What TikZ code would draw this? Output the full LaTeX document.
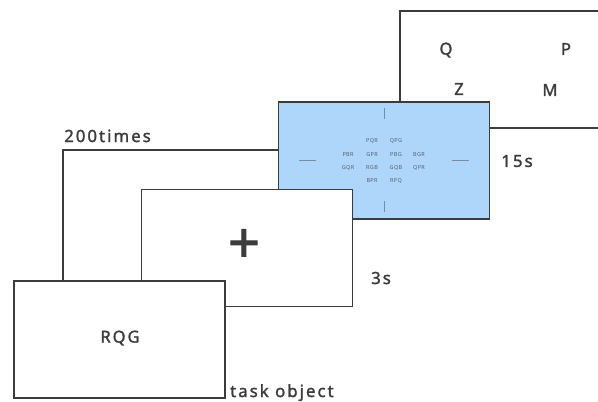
\documentclass[tikz,border=0pt]{standalone}
\usepackage{fontspec}
\setmainfont{Noto Sans}[LetterSpace=6]
\newfontfamily\lblfont{Noto Sans}[LetterSpace=12, FakeBold=1.6]
\usepackage{tikz}

\definecolor{boxline}{RGB}{60,60,60}
\definecolor{boxblue}{RGB}{174,214,250}
\definecolor{tickgray}{RGB}{120,140,165}
\definecolor{smalltext}{RGB}{85,95,110}

\tikzset{
  screen/.style={draw=boxline, line width=1.6pt, fill=white,
    minimum width=211pt, minimum height=117pt, inner sep=0pt},
  lbl/.style={text=boxline, font=\lblfont\fontsize{16.8}{18}\selectfont, inner sep=0pt},
  letter/.style={text=boxline, font=\lblfont\fontsize{16.5}{19}\selectfont, inner sep=0pt},
  tiny/.style={text=smalltext, font=\fontsize{5.5}{6}\selectfont, inner sep=0pt}
}

\begin{document}
\begin{tikzpicture}[x=1pt,y=-1pt]
  \clip (0,0) rectangle (598,402);
  % last screen, runs off the right side
  \node[screen, minimum width=230pt] (keys) at (515,69.5) {};
  \node[letter] (q) at (446,50) {Q};
  \node[letter] (p) at (566,49) {P};
  \node[letter] (z) at (459,89) {Z};
  \node[letter] (m) at (550,90) {M};

  % search screen
  \node[screen, fill=boxblue] (search) at (384,160.5) {};
  \draw[tickgray, line width=0.9pt] ([yshift=-51pt]search.center) -- ([yshift=-40pt]search.center);
  \draw[tickgray, line width=0.9pt] ([yshift=42pt]search.center) -- ([yshift=53pt]search.center);
  \draw[tickgray, line width=0.9pt] ([xshift=-85pt]search.center) -- ([xshift=-68pt]search.center);
  \draw[tickgray, line width=0.9pt] ([xshift=68pt]search.center) -- ([xshift=85pt]search.center);
  \node[tiny] (w1) at (372,141) {PQR};
  \node[tiny] (w2) at (396,141) {QPG};
  \node[tiny] (w3) at (348,155) {PBR};
  \node[tiny] (w4) at (372,155) {GPR};
  \node[tiny] (w5) at (396,155) {PBG};
  \node[tiny] (w6) at (419,155) {BGR};
  \node[tiny] (w7) at (348,168) {GQR};
  \node[tiny] (w8) at (372,168) {RGB};
  \node[tiny] (w9) at (396,168) {GQB};
  \node[tiny] (w10) at (419,168) {QPR};
  \node[tiny] (w11) at (372,181) {BPR};
  \node[tiny] (w12) at (396,181) {RPQ};
  \node[lbl] (t15) at (517,161) {15s};

  % fixation screen
  \node[screen] (fix) at (247,248) {};
  \node[text=boxline, font=\lblfont\fontsize{56}{60}\selectfont, inner sep=0pt] (cross) at (244,246) {+};
  \node[lbl] (t3) at (381,278) {3s};

  % task object screen
  \node[screen] (task) at (119.5,339.5) {};
  \node[letter] (rqg) at (120,338) {RQG};
  \node[lbl, anchor=base west] (tasklbl) at (230,397) {task object};

  % repeat frame
  \coordinate (loop) at (63,150);
  \draw[boxline, line width=1.6pt] (loop |- task.north) -- (loop) -- (loop -| search.west);
  \node[lbl, anchor=base west] (times) at (64,142) {200times};
\end{tikzpicture}
\end{document}
